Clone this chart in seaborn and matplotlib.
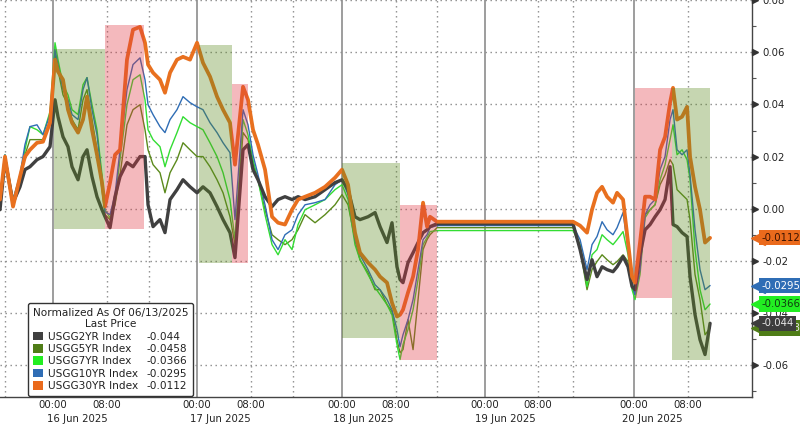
import numpy as np
import pandas as pd
import matplotlib
matplotlib.use("Agg")
import matplotlib.pyplot as plt
import matplotlib.transforms as mtransforms
from matplotlib.patches import Patch
import seaborn as sns

# ---------------- data ----------------
# chart time in hours (compressed trading-time axis, 0 = left edge)
hours = [
    0.00, 0.74, 1.93, 2.96, 3.70, 4.44, 5.48, 6.37, 7.41, 8.15,
    8.59, 9.33, 10.07, 10.67, 11.56, 12.30, 12.89, 13.63, 14.37, 15.11,
    15.56, 16.30, 17.04, 17.78, 18.81, 19.70, 20.74, 21.48, 21.93, 22.67,
    23.70, 24.44, 25.19, 26.22, 27.11, 28.15, 29.19, 30.07, 31.11, 32.15,
    33.04, 34.07, 34.81, 36.00, 36.74, 37.48, 38.22, 39.26, 40.30, 41.19,
    42.22, 43.26, 44.15, 45.19, 46.67, 48.15, 49.63, 50.67, 51.56, 52.59,
    53.33, 54.52, 55.56, 56.30, 57.33, 58.07, 58.81, 59.26, 59.70, 60.44,
    61.19, 61.93, 62.67, 63.26, 63.70, 64.74, 84.89, 85.93, 86.96, 87.70,
    88.44, 89.19, 89.93, 90.81, 91.41, 92.30, 93.04, 93.63, 94.07, 94.81,
    95.56, 96.30, 97.04, 97.78, 98.52, 99.26, 99.70, 100.30, 101.04, 101.78,
    102.22, 102.96, 103.70, 104.44, 105.19]

usgg30yr = [
    0.0035, 0.0200, 0.0008, 0.0123, 0.0200, 0.0226, 0.0253, 0.0257, 0.0330, 0.0572,
    0.0526, 0.0495, 0.0380, 0.0330, 0.0292, 0.0342, 0.0430, 0.0303, 0.0207, 0.0100,
    0.0008, 0.0100, 0.0207, 0.0226, 0.0572, 0.0687, 0.0698, 0.0637, 0.0553, 0.0522,
    0.0495, 0.0445, 0.0522, 0.0572, 0.0583, 0.0572, 0.0637, 0.0560, 0.0507, 0.0430,
    0.0380, 0.0330, 0.0169, 0.0468, 0.0418, 0.0303, 0.0246, 0.0150, -0.0031, -0.0054,
    -0.0061, -0.0004, 0.0035, 0.0046, 0.0061, 0.0084, 0.0119, 0.0150, 0.0092, -0.0092,
    -0.0169, -0.0207, -0.0234, -0.0261, -0.0284, -0.0361, -0.0414, -0.0407, -0.0388, -0.0322,
    -0.0261, -0.0157, 0.0023, -0.0069, -0.0031, -0.0050, -0.0050, -0.0065, -0.0092, -0.0004,
    0.0061, 0.0084, 0.0046, 0.0023, 0.0061, 0.0035, -0.0130, -0.0261, -0.0284, -0.0130,
    0.0046, 0.0046, 0.0035, 0.0226, 0.0276, 0.0407, 0.0464, 0.0342, 0.0353, 0.0391,
    0.0200, 0.0084, -0.0004, -0.0130, -0.0112]

usgg2yr = [
    -0.0004, 0.0188, 0.0023, 0.0084, 0.0150, 0.0161, 0.0188, 0.0200, 0.0238, 0.0418,
    0.0353, 0.0276, 0.0238, 0.0161, 0.0111, 0.0200, 0.0226, 0.0123, 0.0046, -0.0004,
    -0.0031, -0.0073, 0.0046, 0.0123, 0.0177, 0.0161, 0.0200, 0.0200, 0.0015, -0.0069,
    -0.0042, -0.0092, 0.0035, 0.0073, 0.0111, 0.0084, 0.0061, 0.0084, 0.0061, 0.0008,
    -0.0042, -0.0092, -0.0188, 0.0226, 0.0246, 0.0150, 0.0111, 0.0046, 0.0008, 0.0035,
    0.0046, 0.0035, 0.0046, 0.0035, 0.0046, 0.0073, 0.0100, 0.0111, 0.0073, -0.0031,
    -0.0042, -0.0031, -0.0015, -0.0069, -0.0130, -0.0054, -0.0223, -0.0272, -0.0284, -0.0207,
    -0.0169, -0.0130, -0.0092, -0.0081, -0.0069, -0.0058, -0.0058, -0.0157, -0.0272, -0.0196,
    -0.0261, -0.0223, -0.0234, -0.0242, -0.0223, -0.0184, -0.0223, -0.0299, -0.0311, -0.0177,
    -0.0081, -0.0061, -0.0031, -0.0004, 0.0035, 0.0161, -0.0061, -0.0069, -0.0092, -0.0107,
    -0.0261, -0.0407, -0.0503, -0.0560, -0.0440]

usgg10yr = [
    0.0015, 0.0207, 0.0035, 0.0130, 0.0246, 0.0315, 0.0322, 0.0284, 0.0361, 0.0610,
    0.0553, 0.0457, 0.0418, 0.0361, 0.0342, 0.0457, 0.0503, 0.0380, 0.0284, 0.0111,
    -0.0012, -0.0023, 0.0054, 0.0226, 0.0457, 0.0553, 0.0579, 0.0495, 0.0399, 0.0361,
    0.0315, 0.0292, 0.0342, 0.0380, 0.0430, 0.0407, 0.0391, 0.0380, 0.0330, 0.0292,
    0.0253, 0.0215, -0.0042, 0.0380, 0.0322, 0.0207, 0.0130, 0.0015, -0.0119, -0.0157,
    -0.0100, -0.0081, -0.0023, 0.0015, 0.0023, 0.0035, 0.0092, 0.0111, 0.0054, -0.0119,
    -0.0177, -0.0234, -0.0292, -0.0311, -0.0349, -0.0388, -0.0464, -0.0530, -0.0484, -0.0426,
    -0.0349, -0.0234, -0.0119, -0.0100, -0.0073, -0.0065, -0.0065, -0.0119, -0.0234, -0.0138,
    -0.0107, -0.0050, -0.0081, -0.0100, -0.0073, -0.0015, -0.0157, -0.0292, -0.0330, -0.0234,
    -0.0023, 0.0015, 0.0035, 0.0150, 0.0200, 0.0342, 0.0380, 0.0226, 0.0207, 0.0226,
    0.0130, -0.0081, -0.0234, -0.0311, -0.0295]

usgg7yr = [
    0.0015, 0.0207, 0.0035, 0.0123, 0.0226, 0.0315, 0.0303, 0.0284, 0.0372, 0.0637,
    0.0572, 0.0476, 0.0437, 0.0380, 0.0361, 0.0476, 0.0503, 0.0399, 0.0303, 0.0130,
    -0.0004, -0.0035, 0.0035, 0.0188, 0.0399, 0.0495, 0.0514, 0.0418, 0.0303, 0.0265,
    0.0238, 0.0161, 0.0226, 0.0292, 0.0353, 0.0330, 0.0315, 0.0303, 0.0253, 0.0200,
    0.0138, 0.0035, -0.0119, 0.0342, 0.0284, 0.0188, 0.0111, -0.0023, -0.0138, -0.0177,
    -0.0119, -0.0157, -0.0061, -0.0004, 0.0015, 0.0035, 0.0073, 0.0092, 0.0035, -0.0138,
    -0.0196, -0.0253, -0.0303, -0.0330, -0.0368, -0.0407, -0.0522, -0.0579, -0.0522, -0.0464,
    -0.0388, -0.0272, -0.0138, -0.0111, -0.0088, -0.0084, -0.0084, -0.0138, -0.0299, -0.0177,
    -0.0157, -0.0100, -0.0119, -0.0138, -0.0119, -0.0088, -0.0177, -0.0311, -0.0349, -0.0253,
    -0.0035, -0.0004, 0.0015, 0.0111, 0.0169, 0.0265, 0.0322, 0.0207, 0.0226, 0.0188,
    0.0111, -0.0157, -0.0311, -0.0388, -0.0366]

usgg5yr = [
    0.0008, 0.0196, 0.0023, 0.0111, 0.0207, 0.0265, 0.0265, 0.0265, 0.0342, 0.0591,
    0.0533, 0.0437, 0.0399, 0.0342, 0.0303, 0.0418, 0.0457, 0.0342, 0.0226, 0.0073,
    -0.0023, -0.0042, 0.0015, 0.0130, 0.0322, 0.0380, 0.0399, 0.0303, 0.0226, 0.0169,
    0.0138, 0.0061, 0.0138, 0.0188, 0.0253, 0.0226, 0.0200, 0.0200, 0.0161, 0.0111,
    0.0061, -0.0031, -0.0138, 0.0292, 0.0265, 0.0169, 0.0111, -0.0004, -0.0100, -0.0119,
    -0.0138, -0.0119, -0.0081, -0.0023, -0.0054, -0.0023, 0.0015, 0.0054, 0.0015, -0.0119,
    -0.0196, -0.0246, -0.0311, -0.0311, -0.0368, -0.0395, -0.0503, -0.0553, -0.0541, -0.0426,
    -0.0541, -0.0349, -0.0157, -0.0119, -0.0100, -0.0073, -0.0073, -0.0157, -0.0311, -0.0234,
    -0.0203, -0.0177, -0.0196, -0.0215, -0.0203, -0.0177, -0.0203, -0.0303, -0.0330, -0.0196,
    -0.0023, -0.0004, 0.0015, 0.0092, 0.0130, 0.0188, 0.0169, 0.0073, 0.0054, 0.0035,
    -0.0042, -0.0253, -0.0349, -0.0484, -0.0458]

series_names = ["USGG2YR Index", "USGG5YR Index", "USGG7YR Index",
                "USGG10YR Index", "USGG30YR Index"]
last_prices = [-0.044, -0.0458, -0.0366, -0.0295, -0.0112]
last_price_labels = ["-0.044", "-0.0458", "-0.0366", "-0.0295", "-0.0112"]

# axis furniture (chart-time hours)
midnight_hours = [7.85, 29.19, 50.67, 71.85, 93.93]
eight_hours = [15.85, 37.19, 58.67, 79.70, 101.93]
day_bounds = [0.74, 22.07, 43.41, 64.74, 84.89]
day_labels = ["16 Jun 2025", "17 Jun 2025", "18 Jun 2025", "19 Jun 2025", "20 Jun 2025"]
day_label_pos = [11.5, 32.6, 53.8, 74.8, 96.7]
y_ticks = [-0.06, -0.04, -0.02, 0.00, 0.02, 0.04, 0.06, 0.08]
y_tick_labels = ["-0.06", "-0.04", "-0.02", "0.00", "0.02", "0.04", "0.06", "0.08"]

# shaded windows
shade_start = [8.00, 15.56, 29.48, 34.37, 50.67, 59.26, 94.07, 99.56]
shade_end = [15.56, 21.33, 34.37, 36.74, 59.26, 64.74, 99.56, 105.19]
shade_low = [-0.0077, -0.0077, -0.0207, -0.0207, -0.0495, -0.0579, -0.0342, -0.0579]
shade_high = [0.0614, 0.0706, 0.0629, 0.0480, 0.0177, 0.0015, 0.0464, 0.0464]
shade_kind = ["g", "p", "g", "p", "g", "p", "p", "g"]

# ---------------- styling ----------------
sns.set_theme(style="white")
plt.rcParams["font.family"] = ["DejaVu Sans"]
plt.rcParams["axes.unicode_minus"] = False

c_2y = "#404040"
c_5y = "#5b8a1c"
c_7y = "#33dd33"
c_10y = "#2f6db5"
c_30y = "#e8701f"
legend_colors = ["#404040", "#4f7d17", "#22ee22", "#2f6db5", "#ea6a1c"]

fig = plt.figure(figsize=(8, 4.26), dpi=100)
ax = fig.add_axes([0.0, 0.068, 0.94, 0.932])

df = pd.DataFrame({"hours": hours, "USGG2YR Index": usgg2yr, "USGG5YR Index": usgg5yr,
                   "USGG7YR Index": usgg7yr, "USGG10YR Index": usgg10yr,
                   "USGG30YR Index": usgg30yr})

draw = [("USGG5YR Index", c_5y, 1.0), ("USGG7YR Index", c_7y, 1.0),
        ("USGG10YR Index", c_10y, 1.0), ("USGG2YR Index", c_2y, 2.4),
        ("USGG30YR Index", c_30y, 2.7)]
for i, (name, col, lw) in enumerate(draw):
    sns.lineplot(data=df, x="hours", y=name, ax=ax, color=col, linewidth=lw,
                 sort=False, estimator=None, zorder=3 + i * 0.1)

# shaded windows overlaid
shade_col = {"g": "#5c8a20", "p": "#e03742"}
for s, e, lo, hi, k in zip(shade_start, shade_end, shade_low, shade_high, shade_kind):
    ax.fill_between([s, e], [lo, lo], [hi, hi], color=shade_col[k], alpha=0.35,
                    linewidth=0, zorder=4)

ax.set_xlim(0, 111.4)
ax.set_ylim(-0.0723, 0.0801)
ax.set_xlabel("")
ax.set_ylabel("")

# grid
dot = (0, (1, 2.6))
for yv in y_ticks:
    ax.axhline(yv, color="#8a8a8a", lw=1.0, ls=dot, zorder=1)
for xv in eight_hours + day_bounds:
    ax.axvline(xv, color="#8a8a8a", lw=1.0, ls=dot, zorder=1)
for xv in midnight_hours:
    ax.axvline(xv, color="#8c8c8c", lw=1.2, zorder=1)

# spines
for sp in ["left", "top"]:
    ax.spines[sp].set_visible(False)
for sp in ["right", "bottom"]:
    ax.spines[sp].set_color("#444444")
    ax.spines[sp].set_linewidth(1.0)

# y axis on the right
ax.yaxis.tick_right()
ax.set_yticks(y_ticks)
ax.set_yticklabels(y_tick_labels)
ax.set_yticks([-0.07, -0.05, -0.03, -0.01, 0.01, 0.03, 0.05, 0.07], minor=True)
ax.tick_params(axis="y", which="major", length=0, pad=7.5, labelsize=7.3, labelcolor="#222222")
ax.tick_params(axis="y", which="minor", length=3, width=0.8, color="#555555", direction="out")
ytrans = mtransforms.blended_transform_factory(ax.transAxes, ax.transData)
ax.plot([1.0045] * len(y_ticks), y_ticks, ls="none", marker=">", ms=4.5,
        color="#333333", transform=ytrans, clip_on=False, zorder=6)

# x axis: long ticks at day boundaries, small ticks every few hours
ax.set_xticks(day_bounds)
ax.set_xticklabels([""] * len(day_bounds))
minor_x = [m - 4 for m in midnight_hours] + [m + 4 for m in midnight_hours] + [m + 12 for m in midnight_hours]
ax.set_xticks(minor_x, minor=True)
ax.tick_params(axis="x", which="major", length=22, width=1.0, color="#555555", direction="out")
ax.tick_params(axis="x", which="minor", length=3, width=0.8, color="#555555", direction="out")

xtrans = mtransforms.blended_transform_factory(ax.transData, ax.transAxes)
for xv in midnight_hours:
    ax.text(xv, -0.021, "00:00", transform=xtrans, ha="center", va="center",
            fontsize=7.3, color="#222222")
for xv in eight_hours:
    ax.text(xv, -0.021, "08:00", transform=xtrans, ha="center", va="center",
            fontsize=7.3, color="#222222")
for xv, lab in zip(day_label_pos, day_labels):
    ax.text(xv, -0.056, lab, transform=xtrans, ha="center", va="center",
            fontsize=7.3, color="#222222")

# right-hand value tags (olive first so the grey tag sits on top)
tag_order = [1, 4, 3, 2, 0]
tag_fc = ["#3d3d3d", "#4f7d17", "#22ee22", "#2f6db5", "#ea6a1c"]
tag_tc = ["#e6e6e6", "#e6e6e6", "#103a10", "#ffffff", "#3a1200"]
for i in tag_order:
    v = last_prices[i]
    ax.plot([1.008], [v], ls="none", marker="<", ms=10, color=tag_fc[i],
            transform=ytrans, clip_on=False, zorder=7)
    ax.text(1.0125, v, last_price_labels[i], transform=ytrans, ha="left", va="center",
            fontsize=7.3, color=tag_tc[i], zorder=8, clip_on=False,
            bbox=dict(boxstyle="square,pad=0.25", fc=tag_fc[i], ec="none"))

# legend
handles = [Patch(facecolor=c, edgecolor="none") for c in legend_colors] + \
          [Patch(facecolor="none", edgecolor="none") for _ in legend_colors]
labels = series_names + last_price_labels
leg = ax.legend(handles, labels, ncol=2, loc="lower left", bbox_to_anchor=(0.037, 0.003),
                title="Normalized As Of 06/13/2025\nLast Price", fontsize=7.6,
                title_fontsize=7.6, handlelength=0.9, handleheight=0.9,
                handletextpad=0.5, columnspacing=-0.6, labelspacing=0.22,
                borderpad=0.45, frameon=True, fancybox=True, framealpha=1,
                edgecolor="#333333", borderaxespad=0)
leg.set_zorder(10)
leg.get_frame().set_linewidth(1.0)
for t in leg.get_texts():
    t.set_color("#222222")
leg.get_title().set_color("#222222")
leg.get_title().set_multialignment("center")

fig.savefig("out.png", dpi=100)
